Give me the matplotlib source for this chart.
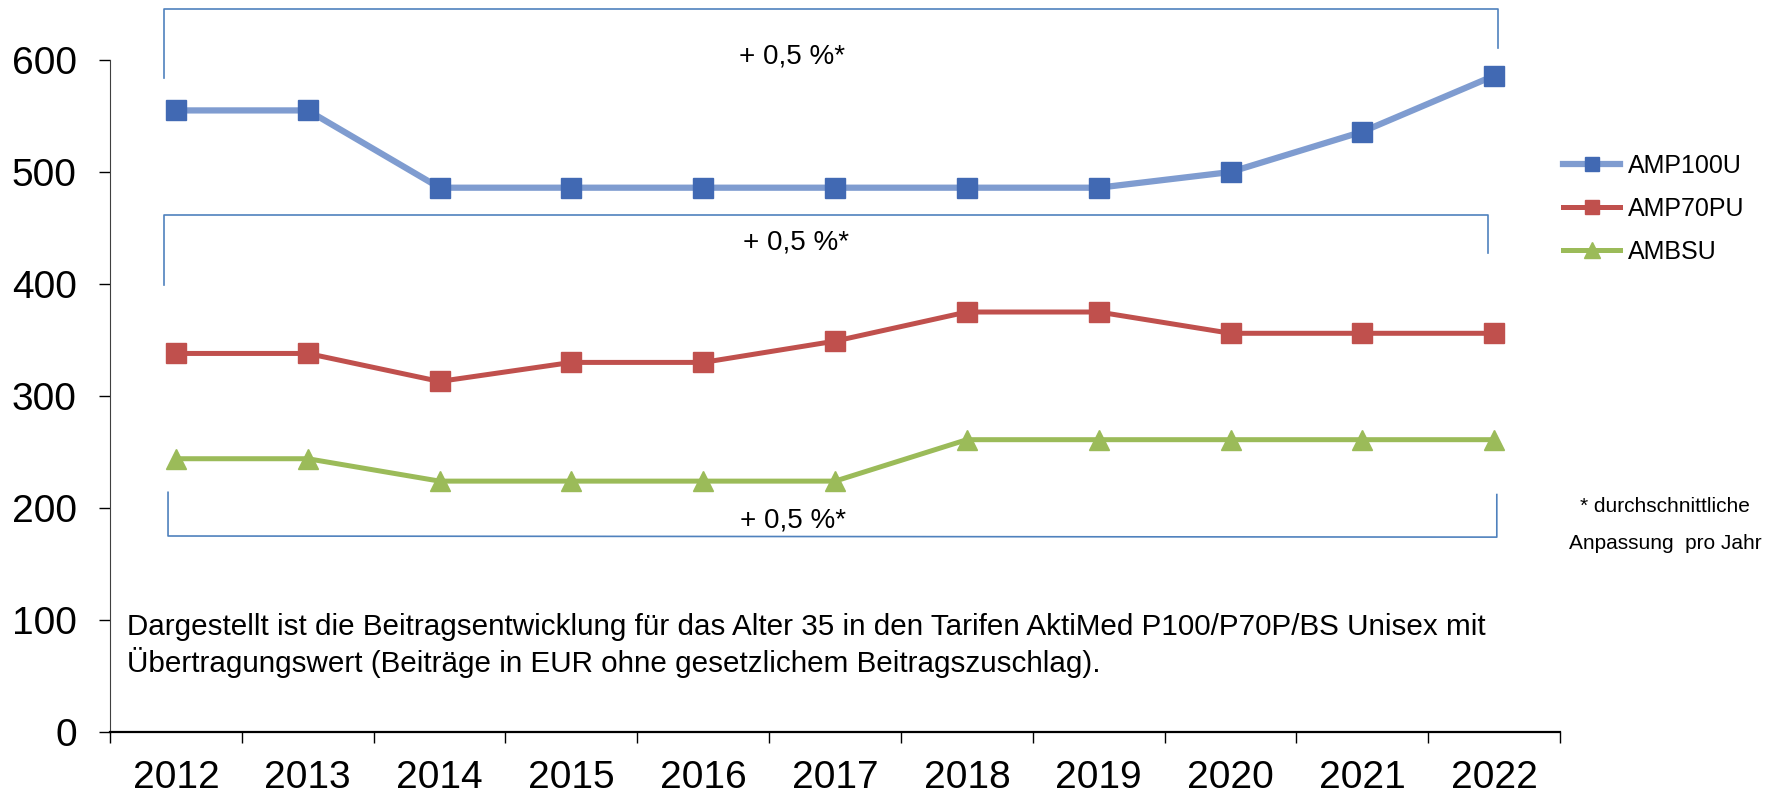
import numpy as np
import matplotlib.pyplot as plt

plt.rcParams['font.family'] = ['Liberation Sans', 'DejaVu Sans']

years = ['2012', '2013', '2014', '2015', '2016', '2017', '2018', '2019', '2020', '2021', '2022']
amp100u = [555, 555, 486, 486, 486, 486, 486, 486, 500, 536, 586]
amp70pu = [338, 338, 313, 330, 330, 349, 375, 375, 356, 356, 356]
ambsu = [244, 244, 224, 224, 224, 224, 261, 261, 261, 261, 261]
bracket_label = '+ 0,5 %*'

x = np.arange(len(years))

fig = plt.figure(figsize=(17.66, 7.94), dpi=100)
ax = fig.add_axes([0.0623, 0.0781, 0.8211, 0.8463])

ax.plot(x, amp100u, color='#7F9CD0', lw=4.5, marker='s', ms=14,
        mfc='#4169B3', mec='#4169B3', label='AMP100U', zorder=3)
ax.plot(x, amp70pu, color='#C0504D', lw=3.6, marker='s', ms=14,
        mfc='#C0504D', mec='#C0504D', label='AMP70PU', zorder=3)
ax.plot(x, ambsu, color='#9BBB59', lw=3.6, marker='^', ms=15,
        mfc='#9BBB59', mec='#9BBB59', label='AMBSU', zorder=3)

ax.set_xlim(-0.5, len(years) - 0.5)
ax.set_ylim(0, 600)
ax.set_yticks(range(0, 601, 100))
ax.tick_params(axis='y', labelsize=28, length=8, width=1, pad=16)

# boundary ticks, labels centred on the categories
ax.set_xticks(np.arange(-0.5, len(years), 1))
ax.set_xticklabels([])
ax.set_xticks(x, minor=True)
ax.set_xticklabels(years, minor=True)
ax.tick_params(axis='x', which='major', length=8, width=1)
ax.tick_params(axis='x', which='minor', length=0, labelsize=28, pad=20)

for s in ['top', 'right']:
    ax.spines[s].set_visible(False)
ax.spines['left'].set_color('#404040')
ax.spines['bottom'].set_linewidth(1.6)

# brackets (open towards the lines)
bc = '#4F81BD'
ax.plot([-0.09, -0.09, 10.03, 10.03], [584, 646, 646, 611], color=bc, lw=1.2, clip_on=False)
ax.plot([-0.09, -0.09, 9.95, 9.95], [399, 462, 462, 428], color=bc, lw=1.2, clip_on=False)
ax.plot([-0.06, -0.06, 10.02, 10.02], [214, 175, 174, 212], color=bc, lw=1.2, clip_on=False)
ax.text(4.67, 603, bracket_label, fontsize=20, ha='center', va='center')
ax.text(4.70, 437, bracket_label, fontsize=20, ha='center', va='center')
ax.text(4.68, 189, bracket_label, fontsize=20, ha='center', va='center')

fig.legend(loc='center left', bbox_to_anchor=(0.885, 0.737), frameon=False,
           fontsize=18, handlelength=2.3, handletextpad=0.3, labelspacing=0.75,
           markerscale=0.75, borderpad=0, borderaxespad=0)

fig.text(0.943, 0.3615, '* durchschnittliche', fontsize=15, ha='center', va='center')
fig.text(0.943, 0.316, 'Anpassung  pro Jahr', fontsize=15, ha='center', va='center')

fig.text(0.0719, 0.2103, 'Dargestellt ist die Beitragsentwicklung für das Alter 35 in den '
         'Tarifen AktiMed P100/P70P/BS Unisex mit', fontsize=21.3, ha='left', va='center')
fig.text(0.0719, 0.165, 'Übertragungswert (Beiträge in EUR ohne gesetzlichem Beitragszuschlag).',
         fontsize=21.3, ha='left', va='center')

fig.savefig('out.png', dpi=100)
